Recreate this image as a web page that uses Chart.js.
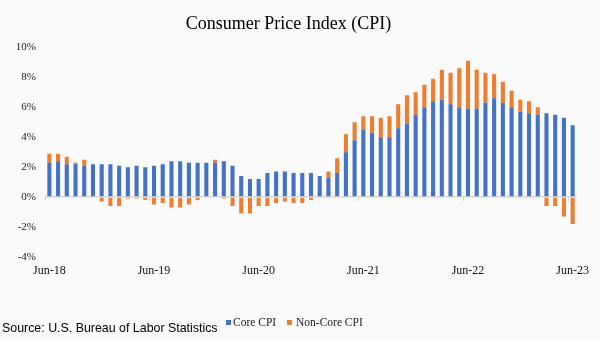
<!DOCTYPE html>
<html>
<head>
<meta charset="utf-8">
<script src="https://cdn.jsdelivr.net/npm/chart.js@4/dist/chart.umd.min.js"></script>
<style>
  html, body { margin: 0; padding: 0; background: #fafafa; }
  #wrap { position: relative; width: 600px; height: 340px; }
  #source { position: absolute; left: 2px; top: 322px; font-family: "Liberation Sans", Arial, sans-serif; font-size: 12.4px; line-height: 12.4px; color: #000; white-space: nowrap; }
  .lg { position: absolute; top: 317px; font-family: "Liberation Serif", "Times New Roman", serif; font-size: 11.5px; line-height: 11.5px; color: #222; white-space: nowrap; }
  .sw { position: absolute; top: 320px; width: 5px; height: 5px; }
</style>
</head>
<body>
<div id="wrap">
  <canvas id="c" width="600" height="340"></canvas>
  <div id="source">Source: U.S. Bureau of Labor Statistics</div>
  <div id="legend"></div>
</div>
<script>
const months = [
  'Jun-18','Jul-18','Aug-18','Sep-18','Oct-18','Nov-18','Dec-18',
  'Jan-19','Feb-19','Mar-19','Apr-19','May-19','Jun-19','Jul-19','Aug-19','Sep-19','Oct-19','Nov-19','Dec-19',
  'Jan-20','Feb-20','Mar-20','Apr-20','May-20','Jun-20','Jul-20','Aug-20','Sep-20','Oct-20','Nov-20','Dec-20',
  'Jan-21','Feb-21','Mar-21','Apr-21','May-21','Jun-21','Jul-21','Aug-21','Sep-21','Oct-21','Nov-21','Dec-21',
  'Jan-22','Feb-22','Mar-22','Apr-22','May-22','Jun-22','Jul-22','Aug-22','Sep-22','Oct-22','Nov-22','Dec-22',
  'Jan-23','Feb-23','Mar-23','Apr-23','May-23','Jun-23'
];
const coreCPI = [
  2.3,2.4,2.2,2.2,2.1,2.2,2.2,
  2.2,2.1,2.0,2.1,2.0,2.1,2.2,2.4,2.4,2.3,2.3,2.3,
  2.3,2.4,2.1,1.4,1.2,1.2,1.6,1.7,1.7,1.6,1.6,1.6,
  1.4,1.3,1.6,3.0,3.8,4.5,4.3,4.0,4.0,4.6,4.9,5.5,
  6.0,6.4,6.5,6.2,6.0,5.9,5.9,6.3,6.6,6.3,6.0,5.7,
  5.6,5.5,5.6,5.5,5.3,4.8
];
const nonCoreCPI = [
  0.6,0.5,0.5,0.1,0.4,0.0,-0.3,
  -0.6,-0.6,-0.1,-0.1,-0.2,-0.5,-0.4,-0.7,-0.7,-0.5,-0.2,0.0,
  0.2,-0.1,-0.6,-1.1,-1.1,-0.6,-0.6,-0.4,-0.3,-0.4,-0.4,-0.2,
  0.0,0.4,1.0,1.2,1.2,0.9,1.1,1.3,1.4,1.6,1.9,1.5,
  1.5,1.5,2.0,2.1,2.6,3.2,2.6,2.0,1.6,1.4,1.1,0.8,
  0.8,0.5,-0.6,-0.6,-1.3,-1.8
];
const yTicks = [-4,-2,0,2,4,6,8,10];
const seriesNames = ['Core CPI', 'Non-Core CPI'];
const seriesColors = ['#4472C4', '#ED7D31'];

const serif = "'Liberation Serif', 'Times New Roman', serif";

const chart = new Chart(document.getElementById('c'), {
  type: 'bar',
  data: {
    labels: months,
    datasets: [
      { label: seriesNames[0], data: coreCPI, backgroundColor: seriesColors[0], borderWidth: 0, barPercentage: 0.47, categoryPercentage: 1 },
      { label: seriesNames[1], data: nonCoreCPI, backgroundColor: seriesColors[1], borderWidth: 0, barPercentage: 0.47, categoryPercentage: 1 }
    ]
  },
  options: {
    responsive: false,
    animation: false,
    layout: { padding: { left: 0, right: 23, top: 0, bottom: 33 } },
    plugins: {
      title: {
        display: true,
        text: 'Consumer Price Index (CPI)',
        color: '#000',
        font: { family: serif, size: 18, weight: 'normal' },
        padding: { top: 13, bottom: 12.7 }
      },
      legend: { display: false },
      tooltip: { enabled: false }
    },
    scales: {
      x: {
        stacked: true,
        grid: { display: false, drawTicks: false },
        border: { display: false },
        ticks: {
          autoSkip: false, maxRotation: 0, padding: 7,
          color: '#111',
          font: { family: serif, size: 12 },
          callback: function(v, i) { return i % 12 === 0 ? months[i] : ''; }
        },
        afterFit: function(scale) { scale.height = 50; }
      },
      x2: {
        type: 'category',
        labels: months,
        position: { y: 0 },
        offset: true,
        grid: {
          drawOnChartArea: false, drawTicks: true, tickLength: 4, offset: true,
          color: function(ctx) { return ctx.index % 12 === 0 ? '#cfcfcf' : 'rgba(0,0,0,0)'; }
        },
        border: { display: false },
        ticks: { display: false, autoSkip: false }
      },
      y: {
        stacked: true,
        min: -4, max: 10,
        afterBuildTicks: function(scale) { scale.ticks = yTicks.map(v => ({ value: v })); },
        grid: {
          drawTicks: false,
          lineWidth: 1.5,
          color: function(ctx) { return ctx.tick && ctx.tick.value === 0 ? '#d9d9d9' : 'rgba(0,0,0,0)'; }
        },
        border: { display: false },
        ticks: {
          padding: 9,
          color: '#222',
          font: { family: serif, size: 11 },
          callback: function(v) { return v + '%'; }
        },
        afterFit: function(scale) { scale.width = 45; }
      }
    }
  }
});

// HTML legend built from the series names/colours
const legend = document.getElementById('legend');
const swX = [225.5, 287];
const txX = [233, 296];
seriesNames.forEach(function(name, i) {
  const sw = document.createElement('div');
  sw.className = 'sw';
  sw.style.left = swX[i] + 'px';
  sw.style.background = seriesColors[i];
  legend.appendChild(sw);
  const tx = document.createElement('div');
  tx.className = 'lg';
  tx.style.left = txX[i] + 'px';
  tx.textContent = name;
  legend.appendChild(tx);
});
</script>
</body>
</html>
